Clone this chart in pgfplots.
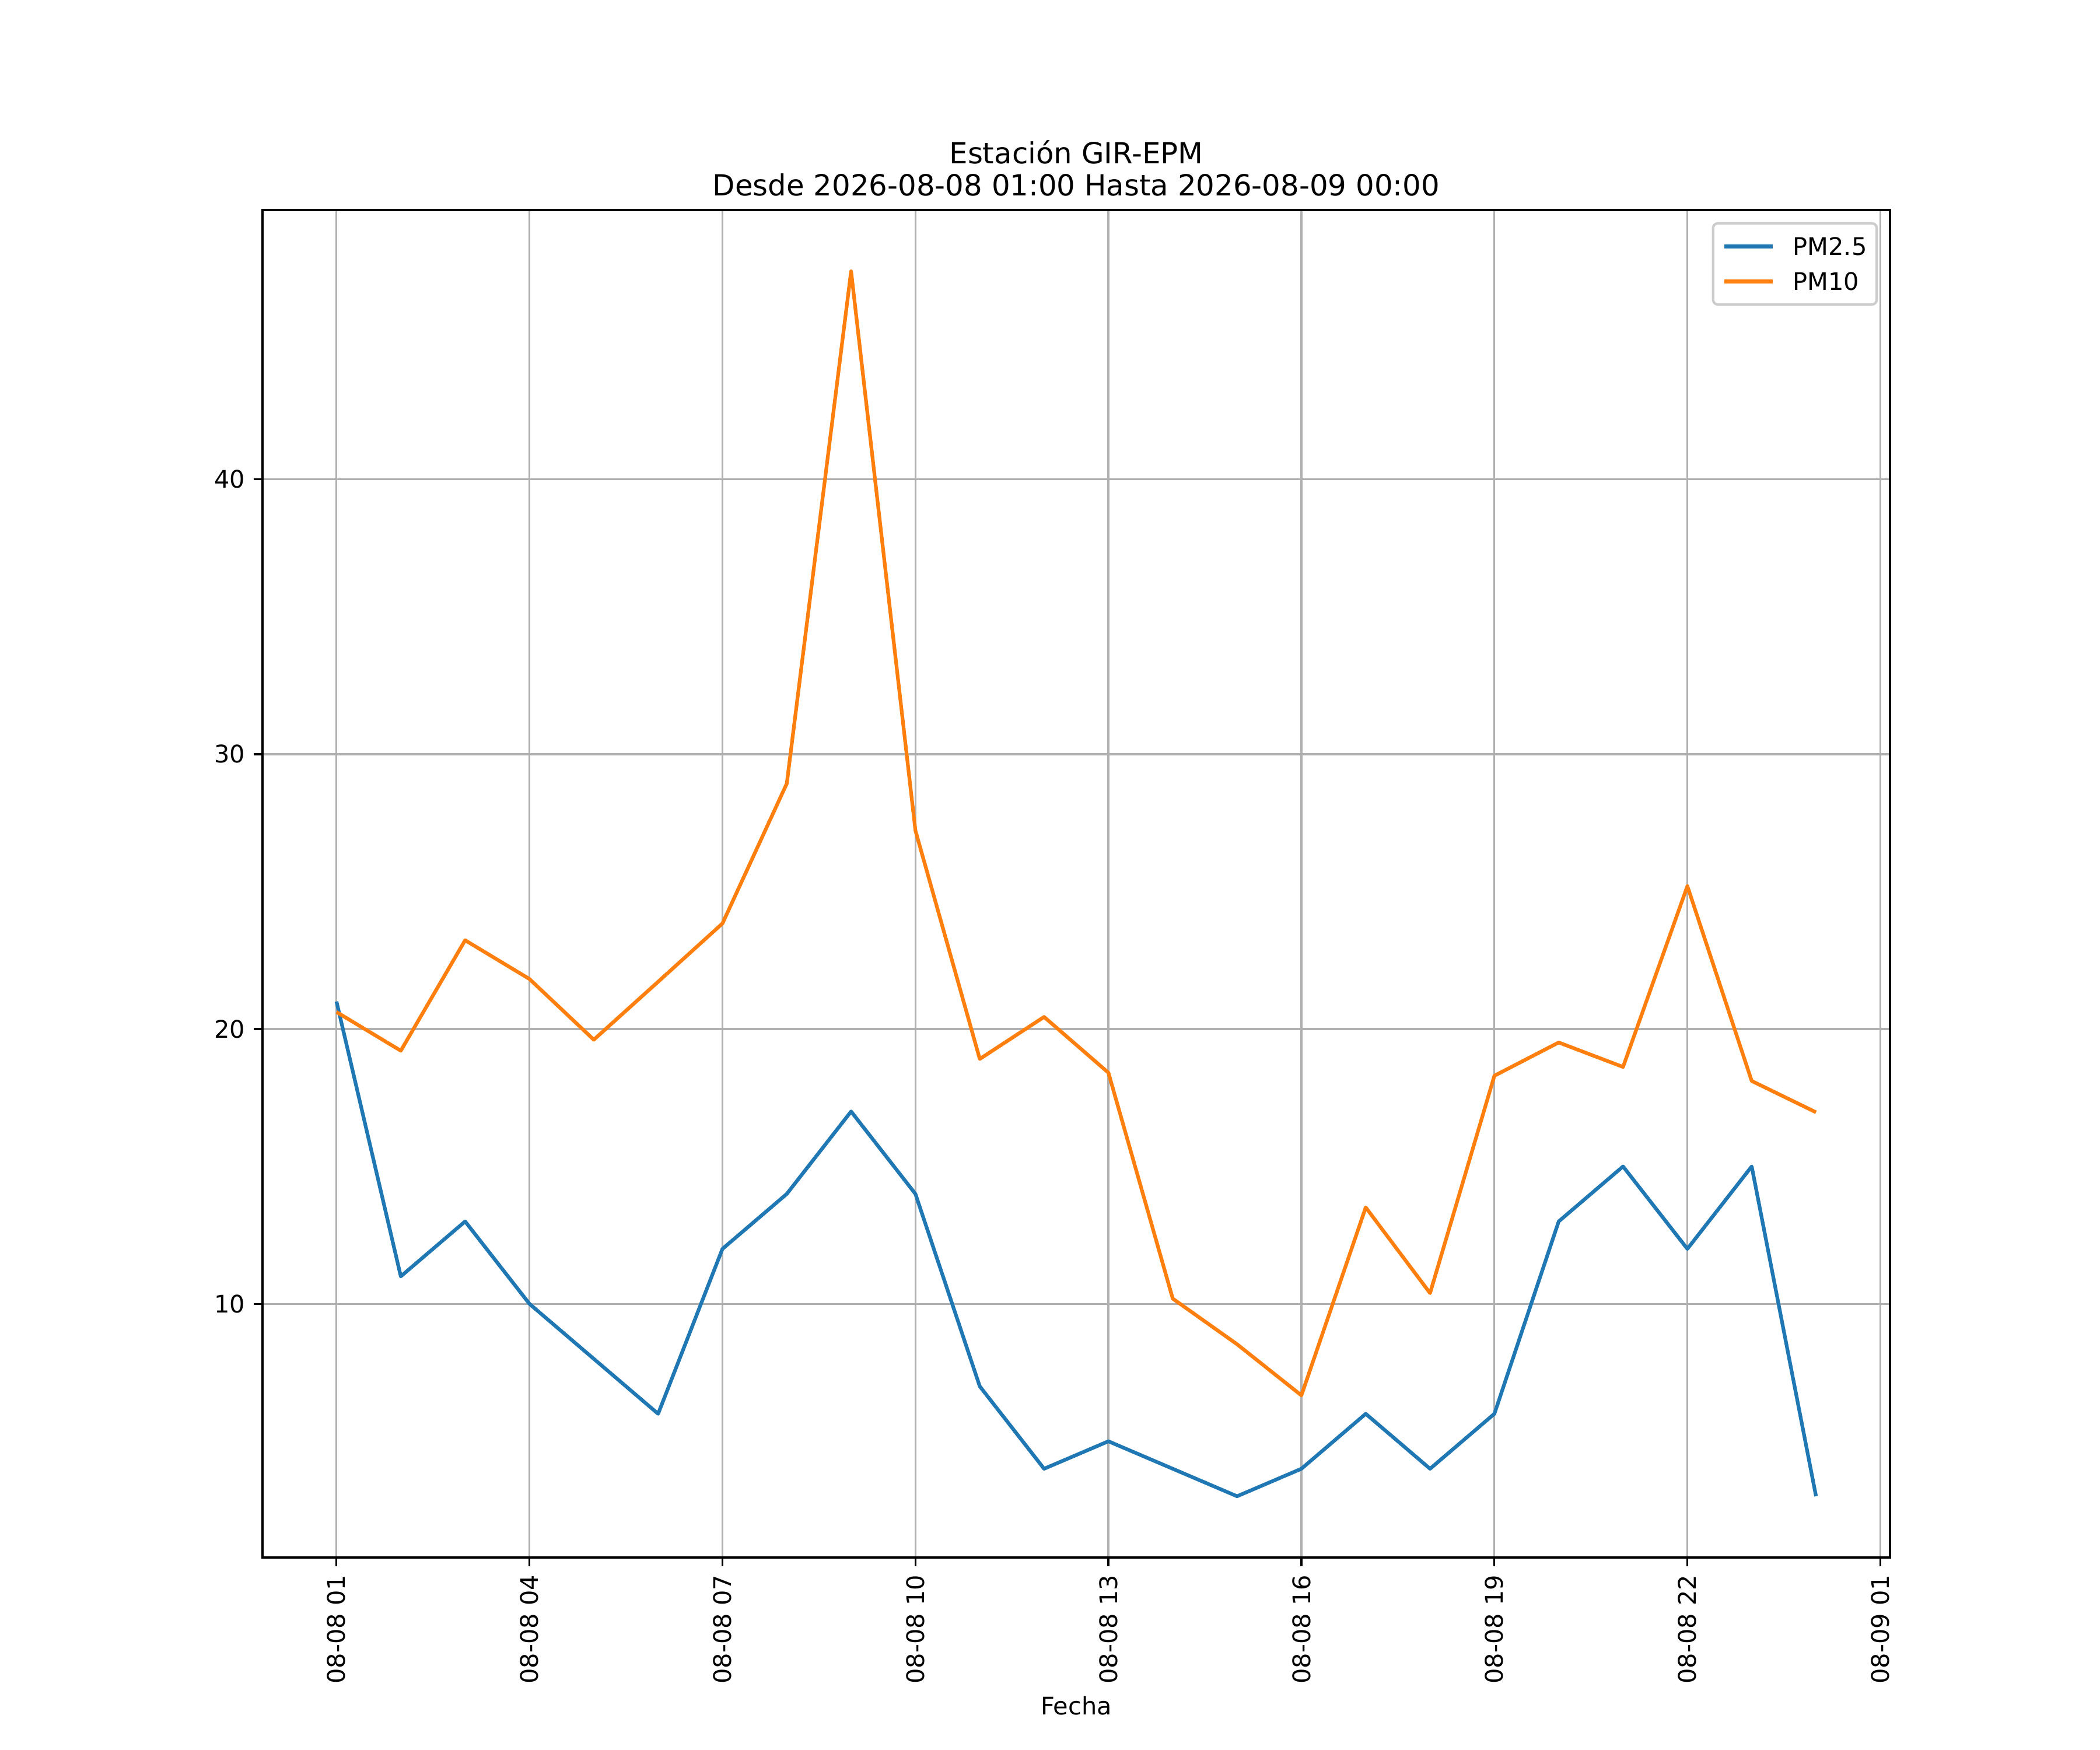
\documentclass[border=0pt]{standalone}
\usepackage{pgfplots}
\pgfplotsset{compat=1.18}
\usepackage{fontspec}
\setmainfont{DejaVu Sans}
\definecolor{c1}{HTML}{1F77B4}
\definecolor{c2}{HTML}{FF7F0E}
\definecolor{gridc}{HTML}{B0B0B0}
\begin{document}
\begin{tikzpicture}
\begin{axis}[
  scale only axis,
  width=9.3in, height=7.7in,
  xmin=-0.15, xmax=25.15,
  ymin=0.7715, ymax=49.80,
  font=\fontsize{10}{12}\selectfont,
  /pgf/number format/assume math mode=true,
  axis line style={line width=0.8pt, black},
  tick align=outside,
  xtick pos=bottom, ytick pos=left,
  major tick length=3.5pt,
  tick style={line width=0.8pt, black},
  xtick={1,4,7,10,13,16,19,22,25},
  xticklabels={08-08 01,08-08 04,08-08 07,08-08 10,08-08 13,08-08 16,08-08 19,08-08 22,08-09 01},
  xticklabel style={yshift=-3.5pt, rotate=90, anchor=east, inner sep=0pt},
  ytick={10,20,30,40},
  yticklabel style={inner sep=0pt, xshift=-3.5pt},
  grid=major,
  major grid style={gridc, line width=0.8pt},
  xlabel={Fecha},
  xlabel style={inner sep=0pt, yshift=-5pt},
  title={Estación GIR-EPM\\Desde 2026-08-08 01:00 Hasta 2026-08-09 00:00},
  title style={at={(0.5,1)}, anchor=south, yshift=-0.4pt, inner sep=0pt, text depth=0pt, align=center, font=\fontsize{12}{13.4}\selectfont},
  legend style={at={(1,1)}, anchor=north east, xshift=-5pt, yshift=-5pt,
    draw=black!20, line width=1pt, rounded corners=2pt, fill=white, fill opacity=0.8, text opacity=1,
    font=\fontsize{10}{12}\selectfont, inner xsep=4pt, inner ysep=5.9pt, row sep=7.15pt, column sep=7.5pt,
    nodes={inner sep=0pt, text height=7.3pt, text depth=0pt}},
  legend cell align=left,
  legend image code/.code={\draw[#1, line width=1.5pt] (0pt,0pt) -- (20pt,0pt);},
]
\addplot[c1, line width=1.5pt, line join=round] coordinates {
(1,21) (2,11) (3,13) (4,10) (5,8) (6,6) (7,12) (8,14) (9,17) (10,14) (11,7) (12,4)
(13,5) (14,4) (15,3) (16,4) (17,6) (18,4) (19,6) (20,13) (21,15) (22,12) (23,15) (24,3)};
\addlegendentry{PM2.5}
\addplot[c2, line width=1.5pt, line join=round] coordinates {
(1,20.62) (2,19.21) (3,23.23) (4,21.82) (5,19.61) (6,21.72) (7,23.84) (8,28.93) (9,47.57)
(10,27.22) (11,18.91) (12,20.44) (13,18.41) (14,10.19) (15,8.53) (16,6.67) (17,13.51)
(18,10.39) (19,18.3) (20,19.51) (21,18.62) (22,25.2) (23,18.11) (24,16.97)};
\addlegendentry{PM10}
\end{axis}
\pgfresetboundingbox
\path[use as bounding box] ([xshift=-1.5in,yshift=-1.1in]current axis.south west) rectangle ([xshift=1.2in,yshift=1.2in]current axis.north east);
\end{tikzpicture}
\end{document}
